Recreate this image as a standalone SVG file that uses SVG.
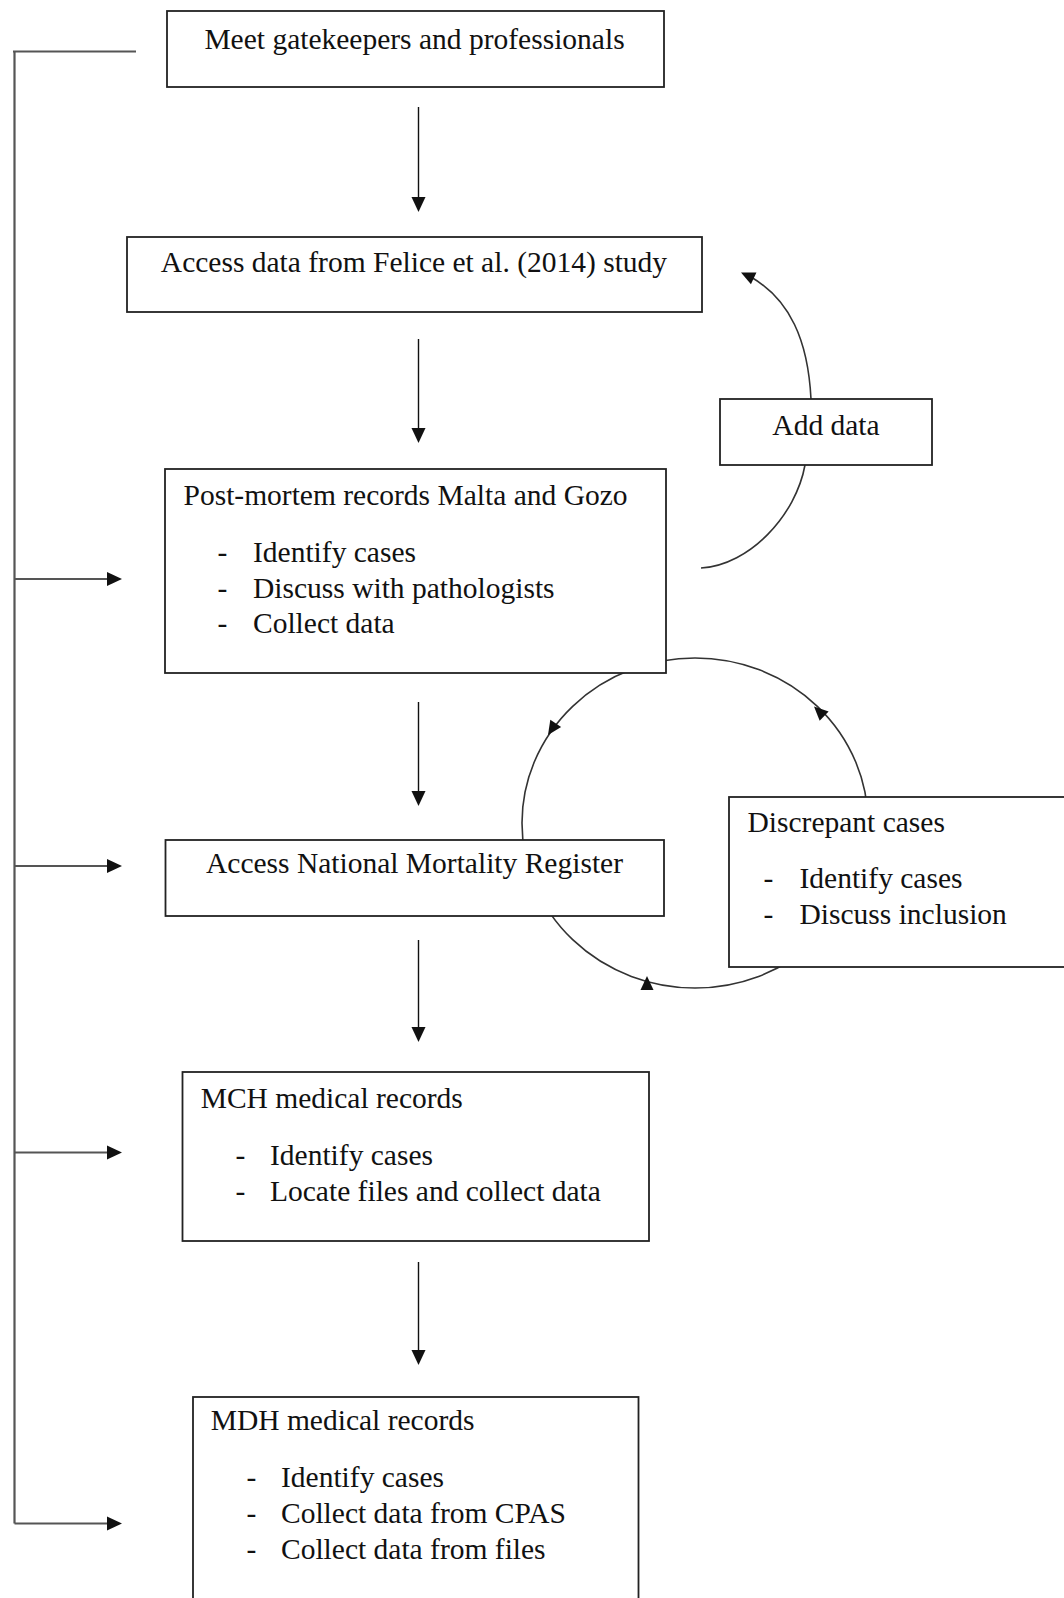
<svg xmlns="http://www.w3.org/2000/svg" width="1064" height="1598" viewBox="0 0 1064 1598">
<style>
  .box { fill: #ffffff; stroke: #222222; stroke-width: 1.8; }
  .t { font-family: "Liberation Serif", "Times New Roman", serif; font-size: 29.5px; fill: #111111; }
  .c { text-anchor: middle; }
  .ln { fill: none; stroke: #111111; stroke-width: 1.4; }
  .br { fill: none; stroke: #555555; stroke-width: 2.2; }
  .arc { fill: none; stroke: #333333; stroke-width: 1.6; }
  .ah { fill: #111111; }
</style>
<defs>
  <path id="ahBig" d="M0,0 L-15,-7 L-15,7 Z"/>
  <path id="ahSm" d="M0,0 L-14,-6.5 L-14,6.5 Z"/>
</defs>
<rect width="1064" height="1598" fill="#ffffff"/>

<g id="connectors">
  <!-- left bracket -->
  <path class="br" d="M13,51.5 H136 M14.5,51.5 V1523.5"/>
  <path class="br" d="M14.5,579 H110 M14.5,866 H110 M14.5,1152.5 H110 M14.5,1523.5 H110"/>
  <use href="#ahBig" class="ah" transform="translate(122,579)"/>
  <use href="#ahBig" class="ah" transform="translate(122,866)"/>
  <use href="#ahBig" class="ah" transform="translate(122,1152.5)"/>
  <use href="#ahBig" class="ah" transform="translate(122,1523.5)"/>

  <!-- vertical flow arrows -->
  <path class="ln" d="M418.5,107 V200 M418.5,339 V431 M418.5,702 V794 M418.5,940 V1030 M418.5,1262 V1353"/>
  <use href="#ahBig" class="ah" transform="translate(418.5,212) rotate(90)"/>
  <use href="#ahBig" class="ah" transform="translate(418.5,443) rotate(90)"/>
  <use href="#ahBig" class="ah" transform="translate(418.5,806) rotate(90)"/>
  <use href="#ahBig" class="ah" transform="translate(418.5,1042) rotate(90)"/>
  <use href="#ahBig" class="ah" transform="translate(418.5,1365) rotate(90)"/>

  <!-- add data loop -->
  <path class="arc" d="M811,399 C808,340 790,300 751,277"/>
  <use href="#ahSm" class="ah" transform="translate(741,272.5) rotate(-155)"/>
  <path class="arc" d="M805,465 C796,515 750,565 701,568"/>

  <!-- discrepant cases cycle -->
  <ellipse class="arc" cx="695" cy="823" rx="173" ry="165"/>
  <use href="#ahSm" class="ah" transform="translate(548,735) rotate(123.5)"/>
  <use href="#ahSm" class="ah" transform="translate(814,706.5) rotate(-136.5)"/>
  <use href="#ahSm" class="ah" transform="translate(647,976) rotate(-90)"/>
</g>

<g id="node-meet">
  <rect class="box" x="167" y="11" width="497" height="76"/>
  <text class="t c" x="414.5" y="48.5">Meet gatekeepers and professionals</text>
</g>

<g id="node-felice">
  <rect class="box" x="127" y="237" width="575" height="75"/>
  <text class="t c" x="414" y="271.5">Access data from Felice et al. (2014) study</text>
</g>

<g id="node-adddata">
  <rect class="box" x="720" y="399" width="212" height="66"/>
  <text class="t c" x="826" y="435">Add data</text>
</g>

<g id="node-postmortem">
  <rect class="box" x="165" y="469" width="501" height="204"/>
  <text class="t" x="183.5" y="505">Post-mortem records Malta and Gozo</text>
  <text class="t" x="217.5" y="561.5">-</text>
  <text class="t" x="253" y="561.5">Identify cases</text>
  <text class="t" x="217.5" y="597.5">-</text>
  <text class="t" x="253" y="597.5">Discuss with pathologists</text>
  <text class="t" x="217.5" y="633">-</text>
  <text class="t" x="253" y="633">Collect data</text>
</g>

<g id="node-nmr">
  <rect class="box" x="165.5" y="840" width="498.5" height="76"/>
  <text class="t c" x="414.5" y="873">Access National Mortality Register</text>
</g>

<g id="node-discrepant">
  <rect class="box" x="729" y="797" width="345" height="170"/>
  <text class="t" x="747.5" y="831.5">Discrepant cases</text>
  <text class="t" x="763.5" y="888">-</text>
  <text class="t" x="799.5" y="888">Identify cases</text>
  <text class="t" x="763.5" y="924">-</text>
  <text class="t" x="799.5" y="924">Discuss inclusion</text>
</g>

<g id="node-mch">
  <rect class="box" x="182.5" y="1072" width="466.5" height="169"/>
  <text class="t" x="200.7" y="1108">MCH medical records</text>
  <text class="t" x="235.5" y="1165">-</text>
  <text class="t" x="270" y="1165">Identify cases</text>
  <text class="t" x="235.5" y="1200.5">-</text>
  <text class="t" x="270" y="1200.5">Locate files and collect data</text>
</g>

<g id="node-mdh">
  <rect class="box" x="193" y="1397" width="445.5" height="230"/>
  <text class="t" x="210.7" y="1430">MDH medical records</text>
  <text class="t" x="246.5" y="1486.5">-</text>
  <text class="t" x="281" y="1486.5">Identify cases</text>
  <text class="t" x="246.5" y="1523">-</text>
  <text class="t" x="281" y="1523">Collect data from CPAS</text>
  <text class="t" x="246.5" y="1558.5">-</text>
  <text class="t" x="281" y="1558.5">Collect data from files</text>
</g>
</svg>
